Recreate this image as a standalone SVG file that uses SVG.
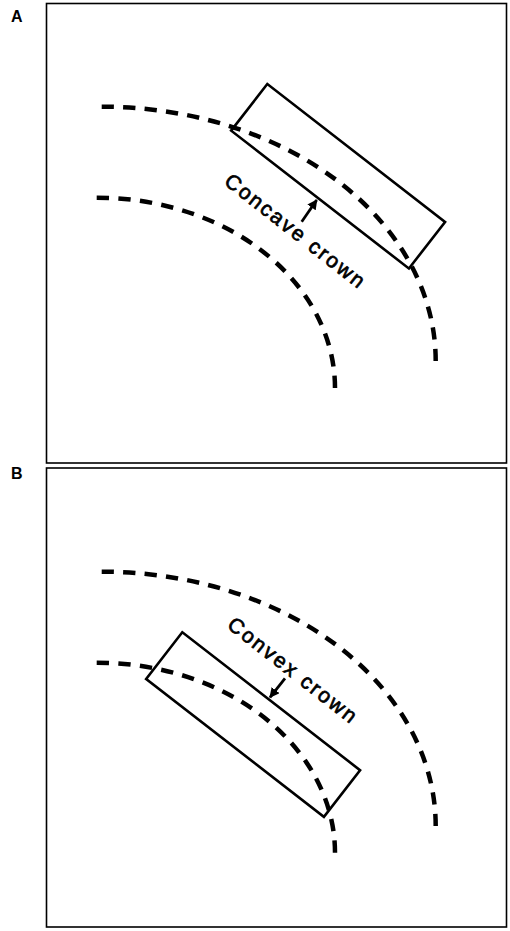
<svg xmlns="http://www.w3.org/2000/svg" width="510" height="931" viewBox="0 0 510 931">
<style>
.frame{fill:none;stroke:#000;stroke-width:1.6}
.box{fill:none;stroke:#000;stroke-width:2.6}
.dash{fill:none;stroke:#000;stroke-width:4.5;stroke-dasharray:12 9}
.lbl{font-family:"Liberation Sans",Arial,sans-serif;font-weight:bold;font-size:16px;fill:#000}
.cap{font-family:"Liberation Sans",Arial,sans-serif;font-size:21px;letter-spacing:2.2px;fill:#000;stroke:#000;stroke-width:0.7}
.arr{stroke:#000;stroke-width:2.8;fill:none}
</style>
<defs>
<marker id="ah" viewBox="0 0 10 10" refX="9" refY="5" markerWidth="3.6" markerHeight="3.6" orient="auto" markerUnits="strokeWidth">
<path d="M0,0 L10,5 L0,10 z" fill="#000"/>
</marker>
</defs>
<g id="panelA">
<rect class="frame" x="46.5" y="3.5" width="460" height="459.5"/>
<text class="lbl" x="11" y="22">A</text>
<g id="curvesA">
<path class="dash" pathLength="453" d="M101.7,106.7 A334,254.3 0 0 1 435.7,361"/>
<path class="dash" pathLength="327" d="M96.7,197.7 A238,190.3 0 0 1 335,388"/>
</g>
<g id="boxA"><rect class="box" x="0" y="0" width="225" height="59" transform="translate(267.3,84) rotate(37.8)"/></g>
<g id="labelA">
<line class="arr" x1="301.7" y1="221.7" x2="316.7" y2="200" marker-end="url(#ah)"/>
<text class="cap" transform="translate(223,183.5) rotate(38)">Concave crown</text>
</g>
</g>
<g id="panelB">
<rect class="frame" x="46.5" y="468" width="460" height="459"/>
<text class="lbl" x="11" y="478.5">B</text>
<g id="curvesB">
<path class="dash" pathLength="453" d="M101.7,571.7 A334,254.3 0 0 1 435.7,826"/>
<path class="dash" pathLength="327" d="M96.7,662.7 A238,190 0 0 1 335,852.7"/>
</g>
<g id="boxB"><rect class="box" x="0" y="0" width="225" height="59" transform="translate(182.3,632.3) rotate(37.8)"/></g>
<g id="labelB">
<line class="arr" x1="285" y1="678.3" x2="270" y2="697.3" marker-end="url(#ah)"/>
<text class="cap" transform="translate(226,627) rotate(38)">Convex crown</text>
</g>
</g>
</svg>
